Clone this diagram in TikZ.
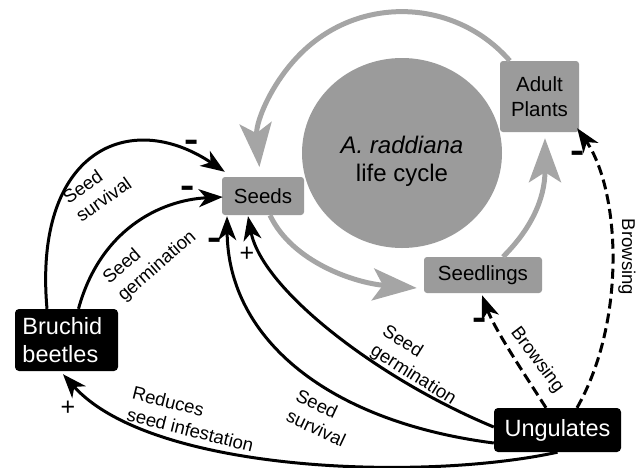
\documentclass[tikz,border=0pt]{standalone}
\usepackage{fontspec}
\usepackage{graphicx}
\setmainfont{Liberation Sans}
\usetikzlibrary{arrows.meta,shapes.geometric}
\definecolor{boxgray}{RGB}{155,155,155}
\definecolor{arrgray}{RGB}{165,165,165}
\tikzset{
  graybox/.style={fill=boxgray, rounded corners=3pt, inner sep=0pt, align=center,
    font=\fontsize{20.5}{25}\selectfont},
  blackbox/.style={fill=black, text=white, rounded corners=4pt, inner sep=0pt,
    font=\fontsize{23.5}{27.5}\selectfont},
  lbl/.style={font=\fontsize{18.5}{22.5}\selectfont, align=left, inner sep=0pt},
  sgn/.style={font=\fontsize{22}{24}\selectfont\bfseries, inner sep=0pt},
  pls/.style={font=\fontsize{25}{26}\selectfont, inner sep=0pt},
  blk/.style={line width=3pt, -{Stealth[length=24pt,width=18pt,inset=7pt]}},
  dsh/.style={blk, dash pattern=on 10pt off 5pt},
  gry/.style={draw=arrgray, line width=5pt, -{Stealth[length=44pt,width=32pt,inset=10pt]}},
}
\newcommand{\mysign}{\scalebox{1}[1.9]{–}}
\begin{document}
\begin{tikzpicture}[x=1pt,y=-1pt]
\useasboundingbox (0,0) rectangle (638,467);
% nodes
\node[ellipse, fill=boxgray, minimum width=200pt, minimum height=190pt, inner sep=0pt] (cycle) at (402,153) {};
\node[align=center, inner sep=0pt, font=\fontsize{24}{28}\selectfont] (cycletxt) at (402,161) {\textit{A. raddiana}\\life cycle};
\node[graybox, minimum width=82pt, minimum height=38pt] (seeds) at (263,196) {Seeds};
\node[graybox, minimum width=79pt, minimum height=71pt] (adult) at (539.5,96.5) {Adult\\Plants};
\node[graybox, minimum width=118pt, minimum height=36pt] (seedl) at (483,275) {Seedlings};
\node[blackbox, minimum height=62pt, text width=88pt, inner xsep=7.5pt, align=left] (bruchid) at (66.5,340) {Bruchid\\beetles};
\node[blackbox, minimum width=127pt, minimum height=44pt] (ung) at (557.5,430) {Ungulates};
% gray life-cycle arrows
\draw[gry] ([xshift=10pt]adult.north west) arc[start angle=-41, end angle=-185, radius=143];
\draw[gry] ([xshift=7pt]seeds.south) .. controls (292,262) and (355,283) .. ([xshift=-7pt,yshift=-13pt]seedl.west);
\draw[gry] ([xshift=20pt]seedl.north) .. controls (530,230) and (545,200) .. ([xshift=5.5pt,yshift=-6pt]adult.south);
% black arrows
\draw[blk] ([xshift=-19.5pt]bruchid.north) .. controls (33,150) and (130,108) .. ([xshift=3pt,yshift=5pt]seeds.north west);
\draw[blk] ([xshift=12pt]bruchid.north) .. controls (100,230) and (160,200) .. ([xshift=1pt,yshift=-1pt]seeds.west);
\draw[blk] ([yshift=3pt]ung.west) .. controls (380,380) and (262,290) .. ([xshift=-15pt,yshift=-1pt]seeds.south);
\draw[blk] ([yshift=-13pt]ung.west) .. controls (330,422) and (228,340) .. ([xshift=-36pt,yshift=-1pt]seeds.south);
\draw[blk] (ung.south) .. controls (420,482) and (150,472) .. ([xshift=-3.5pt,yshift=-3pt]bruchid.south);
\draw[dsh] ([xshift=-11.5pt]ung.north) .. controls (525,375) and (495,330) .. ([xshift=-1pt,yshift=-2pt]seedl.south);
\draw[dsh] ([xshift=19.5pt]ung.north) .. controls (627,320) and (620,190) .. ([xshift=-2pt,yshift=4pt]adult.south east);
% labels
\node[lbl, rotate=35] (l1) at (97,190) {Seed\\survival};
\node[lbl, rotate=41] (l2) at (150,258) {Seed\\germination};
\node[lbl, rotate=-32] (l3) at (419,366) {Seed\\germination};
\node[lbl, rotate=-25] (l4) at (321,418) {Seed\\survival};
\node[lbl, rotate=-14] (l5) at (193,419) {Reduces\\seed infestation};
\node[lbl, rotate=-53] (l6) at (537,360) {Browsing};
\node[lbl, rotate=-90] (l7) at (627,257) {Browsing};
% signs
\node[sgn] (s1) at (192,147) {\mysign};
\node[sgn] (s2) at (188,193) {\mysign};
\node[sgn] (s3) at (215,245) {\mysign};
\node[pls] (s4) at (247,254) {+};
\node[pls] (s5) at (68,408) {+};
\node[sgn] (s6) at (480,325) {\mysign};
\node[sgn] (s7) at (578,158) {\mysign};
\end{tikzpicture}
\end{document}
